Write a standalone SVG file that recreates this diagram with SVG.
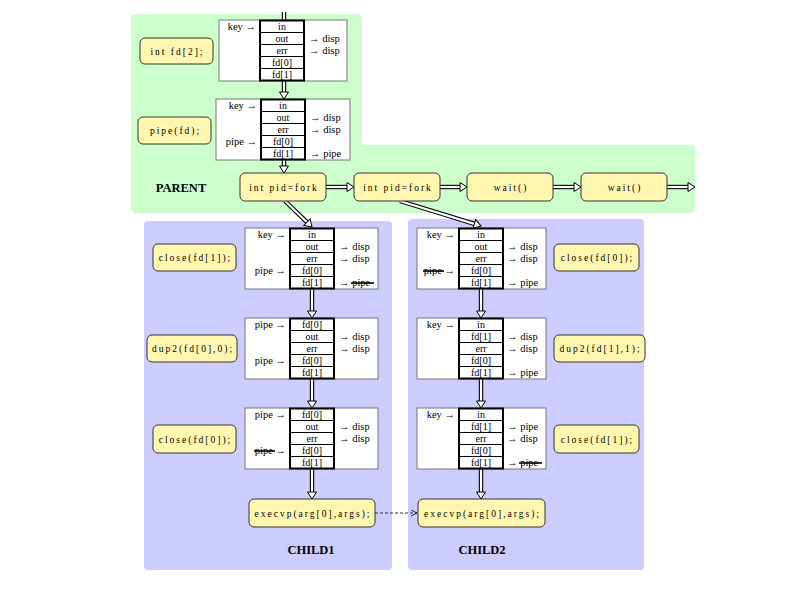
<svg xmlns="http://www.w3.org/2000/svg" xmlns:xlink="http://www.w3.org/1999/xlink" width="800" height="600" viewBox="0 0 800 600">
<style>
text{font-family:"Liberation Serif","DejaVu Serif",serif;fill:#000}
.lbl{font-size:10.5px}
.cell{font-size:10px;text-anchor:middle}
.le{text-anchor:end}
.cmd{font-size:9.5px;letter-spacing:2px;text-anchor:middle}
.title{font-size:12.5px;font-weight:bold;text-anchor:middle}
.tbl{fill:#fff;stroke:#777;stroke-width:1}
.stk{fill:none;stroke:#000;stroke-width:2}
.row{stroke:#000;stroke-width:1}
.box{fill:#fff7b0;stroke:#333;stroke-width:1;rx:5px}
.so{stroke:#000;stroke-width:4.4;fill:none}
.si{stroke:#fff;stroke-width:2.2;fill:none}
.strike{stroke:#000;stroke-width:1.6}
</style>
<defs>
<polygon id="ah" points="-7,-4.5 0,0 -7,4.5" fill="#fff" stroke="#000" stroke-width="1"/>
<marker id="dash-head" markerWidth="8" markerHeight="8" refX="6" refY="3" orient="auto" markerUnits="userSpaceOnUse"><path d="M0,0 L6,3 L0,6" fill="none" stroke="#000" stroke-width="0.8"/></marker>
<g id="stack5">
<rect class="stk" x="0" y="0" width="44" height="60"/>
<line class="row" x1="0" y1="12" x2="44" y2="12"/>
<line class="row" x1="0" y1="24" x2="44" y2="24"/>
<line class="row" x1="0" y1="36" x2="44" y2="36"/>
<line class="row" x1="0" y1="48" x2="44" y2="48"/>
</g>
</defs>

<g id="regions">
<path id="parent-region" d="M136,14 H357 Q362,14 362,19 V145 H690 Q695,145 695,150 V208 Q695,213 690,213 H136 Q131,213 131,208 V19 Q131,14 136,14 Z" fill="#ccffcc"/>
<rect id="child1-region" x="144" y="221" width="248" height="349" rx="4" fill="#ccccff"/>
<rect id="child2-region" x="408" y="219" width="236" height="351" rx="4" fill="#ccccff"/>
<text class="title" x="181" y="192">PARENT</text>
<text class="title" x="311" y="554">CHILD1</text>
<text class="title" x="482" y="554">CHILD2</text>
</g>

<g id="connectors">
<line class="so" x1="284" y1="12" x2="284" y2="20"/><line class="si" x1="284" y1="12" x2="284" y2="20"/>
<line class="so" x1="284" y1="81" x2="284" y2="93"/><line class="si" x1="284" y1="80" x2="284" y2="93.5"/>
<use xlink:href="#ah" transform="translate(284,99) rotate(90)"/>
<line class="so" x1="284" y1="160" x2="284" y2="167"/><line class="si" x1="284" y1="159" x2="284" y2="167.5"/>
<use xlink:href="#ah" transform="translate(284,173) rotate(90)"/>
<line class="so" x1="326" y1="187" x2="348" y2="187"/><line class="si" x1="325" y1="187" x2="348.5" y2="187"/>
<use xlink:href="#ah" transform="translate(354,187)"/>
<line class="so" x1="440" y1="187" x2="461" y2="187"/><line class="si" x1="439" y1="187" x2="461.5" y2="187"/>
<use xlink:href="#ah" transform="translate(467,187)"/>
<line class="so" x1="553" y1="187" x2="575" y2="187"/><line class="si" x1="552" y1="187" x2="575.5" y2="187"/>
<use xlink:href="#ah" transform="translate(581,187)"/>
<line class="so" x1="667" y1="187" x2="689" y2="187"/><line class="si" x1="666" y1="187" x2="689.5" y2="187"/>
<use xlink:href="#ah" transform="translate(695,187)"/>
<line class="so" x1="285" y1="201" x2="307.7" y2="222.9"/><line class="si" x1="284.3" y1="200.3" x2="308" y2="223.2"/>
<use xlink:href="#ah" transform="translate(312,227) rotate(43.9)"/>
<line class="so" x1="400" y1="201" x2="475.3" y2="224.2"/><line class="si" x1="399" y1="200.7" x2="475.8" y2="224.4"/>
<use xlink:href="#ah" transform="translate(481,226) rotate(17.2)"/>
<line class="so" x1="312" y1="289" x2="312" y2="312"/><line class="si" x1="312" y1="288" x2="312" y2="312.5"/>
<use xlink:href="#ah" transform="translate(312,318) rotate(90)"/>
<line class="so" x1="312" y1="379" x2="312" y2="402"/><line class="si" x1="312" y1="378" x2="312" y2="402.5"/>
<use xlink:href="#ah" transform="translate(312,408) rotate(90)"/>
<line class="so" x1="312" y1="469" x2="312" y2="493"/><line class="si" x1="312" y1="468" x2="312" y2="493.5"/>
<use xlink:href="#ah" transform="translate(312,499) rotate(90)"/>
<line class="so" x1="481" y1="289" x2="481" y2="312"/><line class="si" x1="481" y1="288" x2="481" y2="312.5"/>
<use xlink:href="#ah" transform="translate(481,318) rotate(90)"/>
<line class="so" x1="481" y1="379" x2="481" y2="402"/><line class="si" x1="481" y1="378" x2="481" y2="402.5"/>
<use xlink:href="#ah" transform="translate(481,408) rotate(90)"/>
<line class="so" x1="481" y1="469" x2="481" y2="493"/><line class="si" x1="481" y1="468" x2="481" y2="493.5"/>
<use xlink:href="#ah" transform="translate(481,499) rotate(90)"/>
<line x1="375" y1="513" x2="417" y2="513" stroke="#000" stroke-width="0.8" stroke-dasharray="3,2" marker-end="url(#dash-head)"/>
</g>

<g id="cmd-intfd">
<rect class="box" x="140" y="38" width="73" height="26"/>
<text class="cmd" x="177.5" y="54.5">int fd[2];</text>
</g>
<g id="cmd-pipe">
<rect class="box" x="138" y="117" width="73" height="27"/>
<text class="cmd" x="175.5" y="134">pipe(fd);</text>
</g>
<g id="table-p1">
<rect class="tbl" x="219" y="20" width="128" height="61"/>
<use xlink:href="#stack5" x="260" y="20.5"/>
<text class="cell" x="282" y="30">in</text>
<text class="cell" x="282" y="42">out</text>
<text class="cell" x="282" y="54">err</text>
<text class="cell" x="282" y="66">fd[0]</text>
<text class="cell" x="282" y="78">fd[1]</text>
<text class="lbl le" x="256" y="30">key →</text>
<text class="lbl" x="309" y="42">→ disp</text>
<text class="lbl" x="309" y="54">→ disp</text>
</g>
<g id="table-p2">
<rect class="tbl" x="216" y="99" width="134" height="61"/>
<use xlink:href="#stack5" x="261" y="99.5"/>
<text class="cell" x="283" y="109">in</text>
<text class="cell" x="283" y="121">out</text>
<text class="cell" x="283" y="133">err</text>
<text class="cell" x="283" y="145">fd[0]</text>
<text class="cell" x="283" y="157">fd[1]</text>
<text class="lbl le" x="257" y="109">key →</text>
<text class="lbl le" x="257" y="145">pipe →</text>
<text class="lbl" x="310" y="121">→ disp</text>
<text class="lbl" x="310" y="133">→ disp</text>
<text class="lbl" x="310" y="157">→ pipe</text>
</g>
<g id="fork1"><rect class="box" x="240" y="173" width="86" height="28"/><text class="cmd" x="284" y="190.5">int pid=fork</text></g>
<g id="fork2"><rect class="box" x="354" y="173" width="86" height="28"/><text class="cmd" x="398" y="190.5">int pid=fork</text></g>
<g id="wait1"><rect class="box" x="467" y="173" width="86" height="28"/><text class="cmd" x="511" y="190.5">wait()</text></g>
<g id="wait2"><rect class="box" x="581" y="173" width="86" height="28"/><text class="cmd" x="625" y="190.5">wait()</text></g>

<g id="table-c1a">
<rect class="tbl" x="245" y="228" width="133" height="61"/>
<use xlink:href="#stack5" x="290" y="228.5"/>
<text class="cell" x="312" y="238">in</text>
<text class="cell" x="312" y="250">out</text>
<text class="cell" x="312" y="262">err</text>
<text class="cell" x="312" y="274">fd[0]</text>
<text class="cell" x="312" y="286">fd[1]</text>
<text class="lbl le" x="286" y="238">key →</text>
<text class="lbl le" x="286" y="274">pipe →</text>
<text class="lbl" x="339" y="250">→ disp</text>
<text class="lbl" x="339" y="262">→ disp</text>
<text class="lbl" x="339" y="286">→ pipe</text>
<line class="strike" x1="351" y1="283" x2="374" y2="283"/>
</g>
<g id="cmd-c1-close1"><rect class="box" x="153" y="244" width="83" height="27"/><text class="cmd" x="195.5" y="261">close(fd[1]);</text></g>
<g id="table-c1b">
<rect class="tbl" x="245" y="318" width="133" height="61"/>
<use xlink:href="#stack5" x="290" y="318.5"/>
<text class="cell" x="312" y="328">fd[0]</text>
<text class="cell" x="312" y="340">out</text>
<text class="cell" x="312" y="352">err</text>
<text class="cell" x="312" y="364">fd[0]</text>
<text class="cell" x="312" y="376">fd[1]</text>
<text class="lbl le" x="286" y="328">pipe →</text>
<text class="lbl le" x="286" y="364">pipe →</text>
<text class="lbl" x="339" y="340">→ disp</text>
<text class="lbl" x="339" y="352">→ disp</text>
</g>
<g id="cmd-c1-dup2"><rect class="box" x="147" y="335" width="90" height="27"/><text class="cmd" x="193" y="352">dup2(fd[0],0);</text></g>
<g id="table-c1c">
<rect class="tbl" x="245" y="408" width="133" height="61"/>
<use xlink:href="#stack5" x="290" y="408.5"/>
<text class="cell" x="312" y="418">fd[0]</text>
<text class="cell" x="312" y="430">out</text>
<text class="cell" x="312" y="442">err</text>
<text class="cell" x="312" y="454">fd[0]</text>
<text class="cell" x="312" y="466">fd[1]</text>
<text class="lbl le" x="286" y="418">pipe →</text>
<text class="lbl le" x="286" y="454">pipe →</text>
<line class="strike" x1="254" y1="451" x2="275" y2="451"/>
<text class="lbl" x="339" y="430">→ disp</text>
<text class="lbl" x="339" y="442">→ disp</text>
</g>
<g id="cmd-c1-close0"><rect class="box" x="153" y="425" width="83" height="28"/><text class="cmd" x="195.5" y="442.5">close(fd[0]);</text></g>
<g id="exec1"><rect class="box" x="249" y="499" width="126" height="28"/><text class="cmd" x="313" y="516.5">execvp(arg[0],args);</text></g>

<g id="table-c2a">
<rect class="tbl" x="417" y="228" width="129" height="61"/>
<use xlink:href="#stack5" x="459" y="228.5"/>
<text class="cell" x="481" y="238">in</text>
<text class="cell" x="481" y="250">out</text>
<text class="cell" x="481" y="262">err</text>
<text class="cell" x="481" y="274">fd[0]</text>
<text class="cell" x="481" y="286">fd[1]</text>
<text class="lbl le" x="455" y="238">key →</text>
<text class="lbl le" x="455" y="274">pipe →</text>
<line class="strike" x1="423" y1="271" x2="444" y2="271"/>
<text class="lbl" x="507" y="250">→ disp</text>
<text class="lbl" x="507" y="262">→ disp</text>
<text class="lbl" x="507" y="286">→ pipe</text>
</g>
<g id="cmd-c2-close0"><rect class="box" x="554" y="244" width="85" height="27"/><text class="cmd" x="597.5" y="261">close(fd[0]);</text></g>
<g id="table-c2b">
<rect class="tbl" x="417" y="318" width="129" height="61"/>
<use xlink:href="#stack5" x="459" y="318.5"/>
<text class="cell" x="481" y="328">in</text>
<text class="cell" x="481" y="340">fd[1]</text>
<text class="cell" x="481" y="352">err</text>
<text class="cell" x="481" y="364">fd[0]</text>
<text class="cell" x="481" y="376">fd[1]</text>
<text class="lbl le" x="455" y="328">key →</text>
<text class="lbl" x="507" y="340">→ disp</text>
<text class="lbl" x="507" y="352">→ disp</text>
<text class="lbl" x="507" y="376">→ pipe</text>
</g>
<g id="cmd-c2-dup2"><rect class="box" x="554" y="335" width="91" height="27"/><text class="cmd" x="600.5" y="352">dup2(fd[1],1);</text></g>
<g id="table-c2c">
<rect class="tbl" x="417" y="408" width="129" height="61"/>
<use xlink:href="#stack5" x="459" y="408.5"/>
<text class="cell" x="481" y="418">in</text>
<text class="cell" x="481" y="430">fd[1]</text>
<text class="cell" x="481" y="442">err</text>
<text class="cell" x="481" y="454">fd[0]</text>
<text class="cell" x="481" y="466">fd[1]</text>
<text class="lbl le" x="455" y="418">key →</text>
<text class="lbl" x="507" y="430">→ pipe</text>
<text class="lbl" x="507" y="442">→ disp</text>
<text class="lbl" x="507" y="466">→ pipe</text>
<line class="strike" x1="519" y1="463" x2="542" y2="463"/>
</g>
<g id="cmd-c2-close1"><rect class="box" x="554" y="425" width="85" height="28"/><text class="cmd" x="597.5" y="442.5">close(fd[1]);</text></g>
<g id="exec2"><rect class="box" x="418" y="499" width="127" height="28"/><text class="cmd" x="482.5" y="516.5">execvp(arg[0],args);</text></g>
</svg>
